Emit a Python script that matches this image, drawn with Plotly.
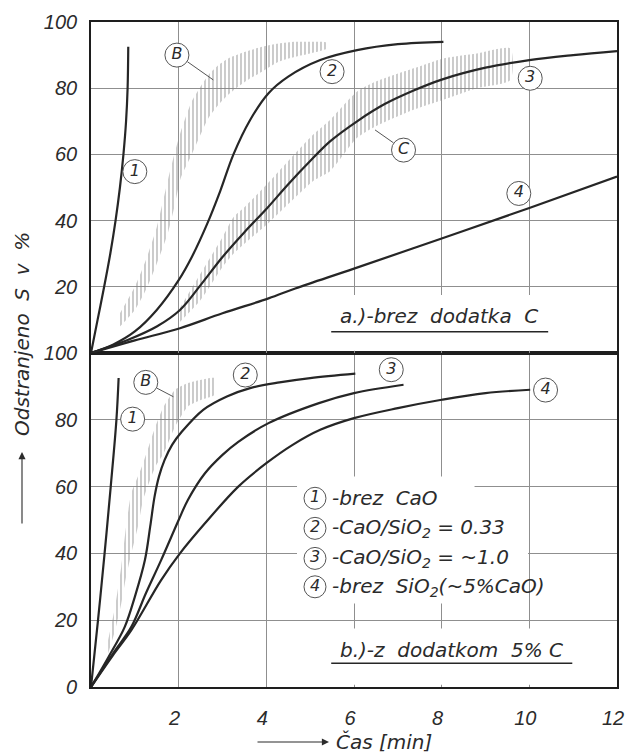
import plotly.graph_objects as go

# ---------------- data: panel a (brez dodatka C) ----------------
a1_x = [0, 0.15, 0.3, 0.44, 0.56, 0.66, 0.74, 0.8, 0.835, 0.85]
a1_y = [0, 10, 20, 30, 40, 50, 60, 70, 80, 92.5]
a2_x = [0, 0.5, 1.0, 1.5, 2.0, 2.3, 2.65, 2.95, 3.25, 3.63, 4.05, 4.5, 5.23, 6.07, 7.0, 8.04]
a2_y = [0, 2.5, 6.5, 13, 22, 29, 39, 49, 60, 70.4, 78.5, 83.5, 88.5, 91.5, 93.3, 94]
a3_x = [0, 0.85, 1.5, 2.03, 2.5, 3.0, 3.5, 4.0, 4.5, 5.0, 5.46, 6.07, 6.7, 7.36, 8.0, 9.0, 10.0, 11.0, 12.0]
a3_y = [0, 4, 8, 13, 20.5, 29, 36.5, 43.5, 51, 58, 64, 70, 75.2, 79.3, 82.6, 86.2, 88.5, 90, 91.2]
a4_x = [0, 1, 2.03, 3, 4.05, 4.66, 6, 8, 10, 12]
a4_y = [0, 3.8, 7.5, 12, 16.5, 19.5, 25.5, 34.6, 43.8, 53.3]

Ba_x = [0.66, 1.0, 1.25, 1.5, 1.75, 1.9, 2.05, 2.3, 2.68, 2.91, 3.13, 3.52, 3.9, 4.28, 4.66, 5.0, 5.38]
Ba_hi = [12, 20, 28, 38, 52, 60, 67, 76, 84, 87, 89, 91, 92.5, 93.5, 94, 94, 93.8]
Ba_lo = [8, 13, 19, 27, 36, 44, 53, 60, 71, 75, 78, 82, 85, 88, 89.5, 90.5, 92]

Ca_x = [2.0, 2.5, 3.0, 3.25, 3.5, 4.05, 4.5, 5.07, 5.46, 6.07, 6.5, 7.36, 8.04, 8.8, 9.57]
Ca_hi = [13, 24, 35, 41, 44, 51.5, 58, 66, 70.5, 79, 82, 86, 89, 90.5, 92]
Ca_lo = [9, 16, 26, 30, 33, 39.3, 45, 52, 55, 65, 68.5, 73.5, 76.5, 80, 82.5]

a_lab_x = [1.0, 1.96, 5.5, 10.02, 7.13, 9.76]
a_lab_y = [54.8, 90, 85, 83, 61.3, 48.2]
a_lab_t = ["1", "B", "2", "3", "C", "4"]

# ---------------- data: panel b (z dodatkom 5% C) ----------------
b1_x = [0, 0.16, 0.31, 0.45, 0.58, 0.63]
b1_y = [0, 20, 40, 60, 80, 92.5]
b2_x = [0, 0.4, 0.77, 1.0, 1.23, 1.35, 1.45, 1.55, 1.68, 1.85, 2.07, 2.56, 3.1, 3.63, 4.3, 5.0, 6.03]
b2_y = [0, 9, 18, 27, 38, 48, 57, 63, 68, 72.5, 76.4, 83, 87, 89.5, 91.2, 92.5, 93.8]
b3_x = [0, 0.5, 0.92, 1.25, 1.6, 2.0, 2.21, 2.6, 3.0, 3.36, 4.05, 5.2, 6.0, 7.13]
b3_y = [0, 10, 18, 28, 38, 50, 56, 64, 69.5, 73.4, 79, 85, 88, 90.5]
b4_x = [0, 0.5, 0.92, 1.6, 2.03, 2.6, 3.36, 4.0, 4.6, 5.23, 6.0, 7.0, 8.0, 9.0, 10.02]
b4_y = [0, 9.5, 17, 32, 40, 49, 60, 67, 72.5, 77, 80.5, 83.5, 86, 88, 89]

Bb_x = [0.39, 0.55, 0.69, 0.8, 0.92, 1.07, 1.19, 1.47, 1.66, 1.92, 2.21, 2.52, 2.82]
Bb_hi = [14, 24, 36, 48, 58, 63, 67, 78, 84, 89, 91, 92, 92.5]
Bb_lo = [10, 17, 25, 33, 40, 48, 56, 66, 70, 78, 84, 86, 87.5]

b_lab_x = [0.95, 1.25, 3.52, 6.85, 10.37]
b_lab_y = [80.2, 91.2, 93.4, 95, 88.9]
b_lab_t = ["1", "B", "2", "3", "4"]

leg_num = ["1", "2", "3", "4"]
leg_text = ["-brez  CaO", "-CaO/SiO<sub>2</sub> = 0.33", "-CaO/SiO<sub>2</sub> = ~1.0",
            "-brez  SiO<sub>2</sub>(~5%CaO)"]
leg_y = [56.5, 47.5, 38.5, 30]
leg_x = [5.11, 5.11, 5.11, 5.11]

x_ticks = [2, 4, 6, 8, 10, 12]
ya_ticks = [20, 40, 60, 80, 100]
yb_ticks = [0, 20, 40, 60, 80, 100]

title_a = "a.)-brez  dodatka  C"
title_b = "b.)-z  dodatkom  5% C"
y_title = "Odstranjeno  S  v  %"
x_title = "Čas [min]"

# ---------------- styling ----------------
INK = "#262626"
GRID = "#8f8f8f"
TXT = "#2b2b2b"
FONT = "DejaVu Sans"
TICKFONT = "Liberation Sans"

fig = go.Figure()

def band(x, hi, lo, xa, ya):
    fig.add_trace(go.Scatter(
        x=list(x) + list(x)[::-1], y=list(hi) + list(lo)[::-1],
        xaxis=xa, yaxis=ya, mode="lines", fill="toself",
        line=dict(width=0, color="rgba(0,0,0,0)", shape="spline", smoothing=0.6),
        fillcolor="rgba(0,0,0,0)",
        fillpattern=dict(shape="|", fgcolor="#858585", bgcolor="rgba(255,255,255,0)",
                         size=4, solidity=0.42),
        hoverinfo="skip", showlegend=False))

def curve(x, y, xa, ya):
    fig.add_trace(go.Scatter(
        x=x, y=y, xaxis=xa, yaxis=ya, mode="lines",
        line=dict(color=INK, width=2.2, shape="spline", smoothing=1.0),
        hoverinfo="skip", showlegend=False))

def labels(x, y, t, xa, ya, size=24):
    fig.add_trace(go.Scatter(
        x=x, y=y, text=t, xaxis=xa, yaxis=ya, mode="markers+text",
        textposition="middle center",
        textfont=dict(family=FONT, size=16, color=TXT, style="italic"),
        marker=dict(symbol="circle", size=size, color="white",
                    line=dict(color="#555555", width=1)),
        hoverinfo="skip", showlegend=False))

# upper panel (a) on x2/y2
band(Ba_x, Ba_hi, Ba_lo, "x2", "y2")
band(Ca_x, Ca_hi, Ca_lo, "x2", "y2")
for cx, cy in [(a1_x, a1_y), (a2_x, a2_y), (a3_x, a3_y), (a4_x, a4_y)]:
    curve(cx, cy, "x2", "y2")

# lower panel (b) on x/y
band(Bb_x, Bb_hi, Bb_lo, "x", "y")
for cx, cy in [(b1_x, b1_y), (b2_x, b2_y), (b3_x, b3_y), (b4_x, b4_y)]:
    curve(cx, cy, "x", "y")

# ---------------- layout ----------------
L, R, T, B = 91, 9, 22, 66
W, H = 626, 753
PW, PH = W - L - R, H - T - B
split = 334 / PH

def px2paper_x(px):
    return (px - L) / PW

def px2paper_y(py):
    return (H - B - py) / PH

axis_common = dict(showline=True, mirror=True, linecolor="#1e1e1e", linewidth=1.6,
                   showgrid=True, gridcolor=GRID, gridwidth=1, zeroline=False,
                   ticks="", fixedrange=True, automargin=False)
tickfont = dict(family=TICKFONT, size=20, color=TXT, style="italic")

fig.update_layout(
    width=W, height=H, autosize=False,
    margin=dict(l=L, r=R, t=T, b=B, autoexpand=False),
    paper_bgcolor="white", plot_bgcolor="white",
    showlegend=False,
    xaxis=dict(domain=[0, 1], anchor="y", range=[0, 12], tickvals=x_ticks,
               ticktext=[str(v) for v in x_ticks], tickfont=tickfont,
               ticklabelstandoff=12, ticklabelshift=-4, ticklabeloverflow="allow",
               **axis_common),
    yaxis=dict(domain=[0, split], anchor="x", range=[0, 100], tickvals=yb_ticks,
               tickfont=tickfont, ticklabelstandoff=8, **axis_common),
    xaxis2=dict(domain=[0, 1], anchor="y2", range=[0, 12], tickvals=x_ticks,
                showticklabels=False, **axis_common),
    yaxis2=dict(domain=[split, 1], anchor="x2", range=[0, 100], tickvals=ya_ticks,
                tickfont=tickfont, ticklabelstandoff=8, **axis_common),
)

# white masks that interrupt the grid behind the text blocks (below the curves)
masks = [
    ("x2", "y2", 5.15, 11.96, 0.7, 17.5),
    ("x", "y", 5.15, 11.96, 0.7, 17.5),
    ("x", "y", 4.7, 8.75, 33, 63),
    ("x", "y", 4.7, 9.97, 25, 43),
]
for xr, yr, x0, x1, y0, y1 in masks:
    fig.add_shape(type="rect", xref=xr, yref=yr, x0=x0, x1=x1, y0=y0, y1=y1,
                  fillcolor="white", line=dict(width=0), layer="between")

# underlines of the panel titles
fig.add_shape(type="line", xref="x2", yref="y2", x0=5.48, x1=10.43, y0=6.4, y1=6.4,
              line=dict(color=INK, width=1.6))
fig.add_shape(type="line", xref="x", yref="y", x0=5.48, x1=10.98, y0=7.1, y1=7.1,
              line=dict(color=INK, width=1.6))

# leader lines of the band labels
for xr, yr, x0, y0, x1, y1 in [("x2", "y2", 2.2, 88.0, 2.79, 82.5),
                               ("x2", "y2", 6.9, 63.5, 6.48, 67.4),
                               ("x", "y", 1.5, 89.5, 1.88, 86.9)]:
    fig.add_shape(type="line", xref=xr, yref=yr, x0=x0, y0=y0, x1=x1, y1=y1,
                  line=dict(color="#555555", width=1))

# circled labels drawn after leader lines
labels(a_lab_x, a_lab_y, a_lab_t, "x2", "y2")
labels(b_lab_x, b_lab_y, b_lab_t, "x", "y")
labels(leg_x, leg_y, leg_num, "x", "y", size=22)

txtfont = dict(family=FONT, size=20, color=TXT, style="italic")
ann = []
ann.append(dict(xref="x2", yref="y2", x=7.95, y=11.2, text=title_a, showarrow=False,
                font=txtfont, xanchor="center", yanchor="middle"))
ann.append(dict(xref="x", yref="y", x=8.23, y=11.0, text=title_b, showarrow=False,
                font=txtfont, xanchor="center", yanchor="middle"))
for t, yy in zip(leg_text, leg_y):
    ann.append(dict(xref="x", yref="y", x=5.45, y=yy, text=t, showarrow=False,
                    font=txtfont, xanchor="left", yanchor="middle"))

# axis titles with arrows
ann.append(dict(xref="paper", yref="paper", x=px2paper_x(22), y=px2paper_y(334),
                text=y_title, textangle=-90, showarrow=False, font=txtfont,
                xanchor="center", yanchor="middle"))
ann.append(dict(xref="paper", yref="paper", x=px2paper_x(22), y=px2paper_y(452),
                ax=0, ay=73, text="", showarrow=True, arrowhead=2, arrowsize=1.3,
                arrowwidth=1.1, arrowcolor=TXT))
ann.append(dict(xref="paper", yref="paper", x=px2paper_x(334), y=px2paper_y(742),
                text=x_title, showarrow=False, font=txtfont,
                xanchor="left", yanchor="middle"))
ann.append(dict(xref="paper", yref="paper", x=px2paper_x(329), y=px2paper_y(742),
                ax=-73, ay=0, text="", showarrow=True, arrowhead=2, arrowsize=1.3,
                arrowwidth=1.1, arrowcolor=TXT))
fig.update_layout(annotations=ann)

fig.write_html("out.html")
